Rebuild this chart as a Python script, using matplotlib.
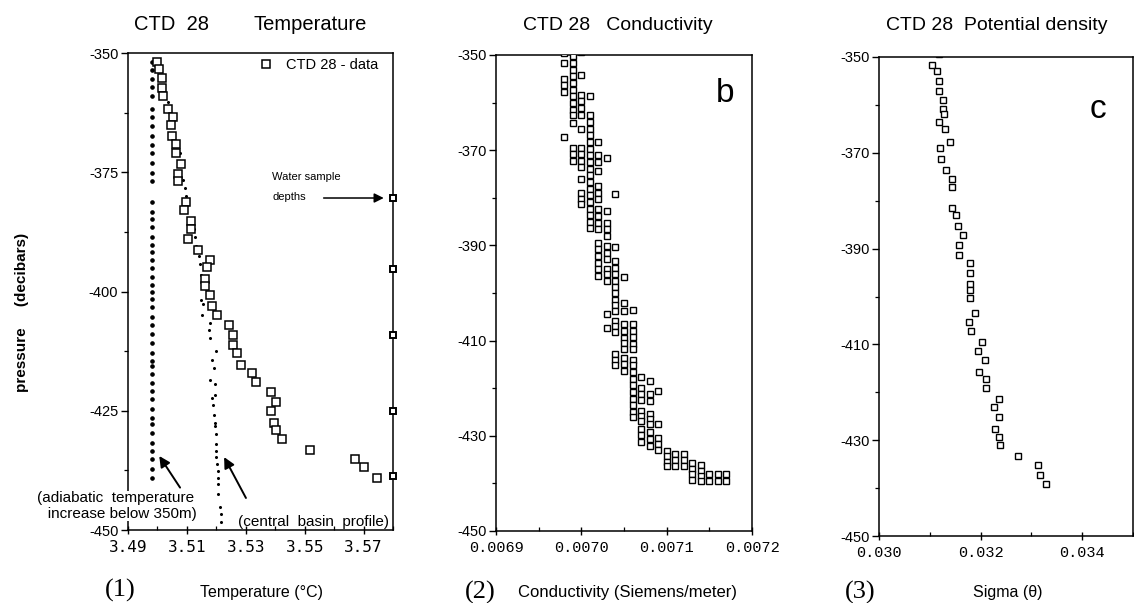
import matplotlib
matplotlib.use("Agg")
import matplotlib.pyplot as plt
from matplotlib.ticker import MultipleLocator, FixedLocator
import numpy as np

plt.rcParams['font.family'] = ['Liberation Sans', 'DejaVu Sans']

# ---------------- Panel 1: temperature ----------------
ctd_temp_depth = [-351.9, -353.3, -355.3, -357.4, -359.1, -361.7, -363.4, -365.1, -367.4, -369.0,
                  -371.0, -373.3, -375.4, -376.9, -381.3, -383.0, -385.3, -386.9, -388.9, -391.2,
                  -393.3, -394.9, -397.3, -398.8, -400.8, -403.0, -404.9, -407.0, -409.2, -411.3,
                  -412.9, -415.5, -417.1, -419.0, -421.1, -423.1, -425.1, -427.6, -429.0, -431.0,
                  -433.2, -435.1, -436.7, -439.0]
ctd_temp_value = [3.4999, 3.5004, 3.5016, 3.5016, 3.5019, 3.5036, 3.5052, 3.5046, 3.5051, 3.5063,
                  3.5062, 3.5080, 3.5070, 3.5070, 3.5097, 3.5090, 3.5114, 3.5114, 3.5104, 3.5137,
                  3.5180, 3.5170, 3.5163, 3.5163, 3.5180, 3.5186, 3.5202, 3.5244, 3.5257, 3.5257,
                  3.5271, 3.5283, 3.5321, 3.5336, 3.5385, 3.5401, 3.5385, 3.5396, 3.5404, 3.5423,
                  3.5518, 3.5672, 3.5700, 3.5744]

adiabatic_depth = [-351.8, -353.5, -355.4, -357.2, -359.1, -361.7, -363.4, -365.2, -367.3, -369.2,
                   -370.9, -373.0, -375.1, -376.9, -381.3, -383.4, -384.8, -386.5, -388.6, -390.3,
                   -391.7, -393.5, -395.1, -396.9, -398.7, -400.1, -401.5, -403.2, -405.3, -407.0,
                   -409.0, -410.8, -412.9, -414.6, -415.7, -417.4, -419.2, -420.9, -422.6, -424.7,
                   -426.5, -427.8, -429.6, -431.7, -433.4, -435.2, -437.2, -439.0]
adiabatic_temp = [3.4980, 3.4980, 3.4980, 3.4980, 3.4980, 3.4980, 3.4980, 3.4980, 3.4980, 3.4980,
                  3.4980, 3.4980, 3.4980, 3.4980, 3.4981, 3.4981, 3.4981, 3.4981, 3.4981, 3.4981,
                  3.4981, 3.4981, 3.4981, 3.4981, 3.4982, 3.4982, 3.4982, 3.4982, 3.4982, 3.4982,
                  3.4982, 3.4982, 3.4982, 3.4982, 3.4982, 3.4983, 3.4983, 3.4983, 3.4983, 3.4983,
                  3.4983, 3.4983, 3.4983, 3.4983, 3.4983, 3.4983, 3.4983, 3.4983]

central_depth = [-360.3, -370.9, -376.6, -378.3, -379.9, -386.9, -388.6, -390.4, -392.6, -394.3,
                 -396.6, -401.8, -402.6, -404.9, -406.7, -408.1, -409.8, -412.5, -414.3, -416.0,
                 -418.5, -419.4, -421.6, -422.3, -423.7, -425.8, -427.5, -428.1, -429.9, -432.0,
                 -433.4, -434.8, -436.2, -437.6, -439.0, -440.4, -442.4, -445.2, -446.6, -448.3]
central_temp = [3.5037, 3.5078, 3.5088, 3.5094, 3.5098, 3.5123, 3.5126, 3.5132, 3.5142, 3.5146,
                3.5149, 3.5149, 3.5154, 3.5151, 3.5177, 3.5174, 3.5179, 3.5199, 3.5186, 3.5191,
                3.5180, 3.5197, 3.5196, 3.5186, 3.5188, 3.5191, 3.5197, 3.5197, 3.5199, 3.5199,
                3.5199, 3.5199, 3.5201, 3.5205, 3.5205, 3.5205, 3.5205, 3.5213, 3.5216, 3.5216]

sample_depths = [-380.5, -395.2, -409.2, -425.1, -438.6]
sample_temp = [3.58, 3.58, 3.58, 3.58, 3.58]

temp_ticks = [3.49, 3.51, 3.53, 3.55, 3.57]
temp_depth_ticks = [-350, -375, -400, -425, -450]

# ---------------- Panel 2: conductivity ----------------
cond_levels = [0.00698, 0.00699, 0.00700, 0.00701, 0.00702, 0.00703, 0.00704, 0.00705, 0.00706,
               0.00707, 0.00708, 0.00709, 0.00710, 0.00711, 0.00712, 0.00713, 0.00714, 0.00715,
               0.00716, 0.00717]
cond_depths = [
    [-349.6, -351.6, -355.0, -356.4, -357.7, -367.3],
    [-350.3, -351.7, -353.1, -354.5, -355.9, -357.3, -358.7, -360.1, -361.5, -362.6, -364.2,
     -369.5, -370.9, -372.3],
    [-349.4, -354.2, -358.3, -359.7, -361.1, -362.5, -365.6, -369.5, -370.9, -372.3, -373.6,
     -376.0, -379.0, -380.3, -381.4],
    [-358.6, -362.7, -364.1, -365.5, -366.9, -368.3, -369.7, -371.1, -372.5, -373.9, -375.3,
     -376.7, -378.1, -379.5, -380.9, -382.3, -383.7, -385.1, -386.3],
    [-368.3, -371.0, -372.4, -374.4, -377.5, -378.9, -380.3, -382.4, -383.8, -385.2, -386.6,
     -389.4, -390.8, -392.2, -393.6, -395.0, -396.4],
    [-371.6, -382.8, -385.2, -386.6, -388.0, -390.1, -391.5, -392.9, -395.0, -396.1, -397.4,
     -404.5, -407.3],
    [-379.3, -390.3, -393.3, -394.7, -396.1, -397.5, -398.8, -400.1, -401.4, -402.6, -403.8,
     -405.9, -407.0, -408.1, -412.9, -414.0, -415.1],
    [-396.6, -402.0, -403.8, -406.6, -408.0, -409.4, -410.6, -411.7, -413.6, -415.0, -416.4],
    [-403.5, -406.5, -407.9, -409.3, -410.7, -411.8, -414.0, -415.2, -416.6, -418.0, -419.4,
     -420.8, -422.2, -423.6, -425.0, -426.1],
    [-417.7, -419.9, -421.3, -422.5, -424.7, -425.9, -426.9, -428.5, -429.9, -431.3],
    [-418.5, -421.3, -422.7, -425.4, -426.5, -427.6, -429.2, -430.7, -432.1],
    [-420.6, -427.5, -430.4, -431.7, -432.9],
    [-433.2, -434.3, -435.4, -436.4],
    [-433.9, -435.1, -436.3],
    [-433.9, -435.1, -436.3],
    [-435.7, -436.9, -438.1, -439.3],
    [-436.1, -437.3, -438.5, -439.5],
    [-438.1, -439.6],
    [-438.1, -439.6],
    [-438.1, -439.6],
]
cond_ticks = [0.0069, 0.0070, 0.0071, 0.0072]
cond_tick_labels = ['0.0069', '0.0070', '0.0071', '0.0072']

# ---------------- Panel 3: potential density ----------------
sigma_depth = [-349.3, -351.6, -353.0, -355.1, -357.0, -359.0, -360.8, -361.8, -363.6, -365.0,
               -367.7, -369.1, -371.2, -373.5, -375.4, -377.1, -381.6, -383.0, -385.3, -387.2,
               -389.3, -391.4, -393.1, -395.1, -397.3, -398.7, -400.4, -403.4, -405.3, -407.1,
               -409.5, -411.4, -413.3, -415.8, -417.3, -419.2, -421.5, -423.1, -425.2, -427.6,
               -429.3, -431.1, -433.3, -435.2, -437.2, -439.2]
sigma_value = [0.03118, 0.03105, 0.03115, 0.03118, 0.03118, 0.03126, 0.03126, 0.03127, 0.03119,
               0.03129, 0.03139, 0.03121, 0.03123, 0.03131, 0.03144, 0.03144, 0.03143, 0.03151,
               0.03156, 0.03165, 0.03157, 0.03157, 0.03180, 0.03180, 0.03180, 0.03180, 0.03180,
               0.03189, 0.03178, 0.03182, 0.03203, 0.03195, 0.03208, 0.03197, 0.03211, 0.03211,
               0.03236, 0.03226, 0.03236, 0.03228, 0.03236, 0.03238, 0.03274, 0.03313, 0.03317,
               0.03328]
sigma_ticks = [0.030, 0.032, 0.034]
sigma_tick_labels = ['0.030', '0.032', '0.034']
depth_ticks_20 = [-350, -370, -390, -410, -430, -450]

# ---------------- Figure ----------------
W, H = 1134, 603
fig = plt.figure(figsize=(W / 100, H / 100), dpi=100)


def px_axes(l, t, r, b):
    return fig.add_axes([l / W, 1 - b / H, (r - l) / W, (b - t) / H])


def style_axes(ax):
    for s in ax.spines.values():
        s.set_linewidth(1.1)
    ax.tick_params(axis='y', which='major', direction='out', length=5, width=1.0, pad=2)
    ax.tick_params(axis='y', which='minor', direction='out', length=3, width=0.9)
    ax.tick_params(axis='x', which='major', direction='inout', length=6, width=1.0, pad=4)
    ax.tick_params(axis='x', which='minor', direction='in', length=3, width=0.9)


sq = dict(marker='s', linestyle='none', mfc='white', mec='black')
YTICK_FS = 10.5

# Panel 1
ax1 = px_axes(128, 53, 393, 530)
style_axes(ax1)
ax1.plot(adiabatic_temp, adiabatic_depth, marker='o', linestyle='none', ms=2.3,
         mfc='black', mec='black', zorder=3)
ax1.plot(central_temp, central_depth, marker='o', linestyle='none', ms=1.2,
         mfc='black', mec='black', zorder=3)
ax1.plot(ctd_temp_value, ctd_temp_depth, ms=5.2, mew=1.1, label='CTD 28 - data', zorder=4, **sq)
ax1.plot(sample_temp, sample_depths, marker='s', linestyle='none', ms=4.2, mew=1.4,
         mfc='white', mec='black', clip_on=False, zorder=5)
ax1.set_xlim(3.49, 3.58)
ax1.set_ylim(-450, -350)
ax1.xaxis.set_major_locator(FixedLocator(temp_ticks))
ax1.xaxis.set_minor_locator(MultipleLocator(0.01))
ax1.yaxis.set_major_locator(FixedLocator(temp_depth_ticks))
ax1.yaxis.set_minor_locator(MultipleLocator(12.5))
ax1.set_xticklabels(['%.2f' % v for v in temp_ticks], family='DejaVu Sans Mono', fontsize=11.5)
ax1.set_yticklabels([str(v) for v in temp_depth_ticks], fontsize=YTICK_FS)
leg = ax1.legend(loc='upper left', bbox_to_anchor=(0.455, 1.01), frameon=False,
                 handlelength=1.0, handletextpad=0.9, fontsize=10.5, borderaxespad=0.3)
ax1.text(3.5390, -376.0, 'Water sample', fontsize=8, ha='left', va='center')
ax1.text(3.5390, -380.2, 'depths', fontsize=8, ha='left', va='center')
ax1.annotate('', xy=(3.5778, -380.4), xytext=(3.5555, -380.4),
             arrowprops=dict(arrowstyle='-|>', color='black', lw=1.1, mutation_scale=14))
ax1.annotate('', xy=(3.5001, -434.0), xytext=(3.5082, -441.6),
             arrowprops=dict(arrowstyle='-|>', color='black', lw=1.4, mutation_scale=16))
ax1.annotate('', xy=(3.5222, -434.2), xytext=(3.5305, -443.8),
             arrowprops=dict(arrowstyle='-|>', color='black', lw=1.4, mutation_scale=16))
fig.text(116 / W, 1 - 506 / H, '(adiabatic  temperature\n   increase below 350m)',
         fontsize=11, ha='center', va='center', linespacing=1.1,
         bbox=dict(facecolor='white', edgecolor='none', pad=0.3), zorder=10)
fig.text(313 / W, 1 - 522 / H, '(central  basin  profile)', fontsize=11,
         ha='center', va='center')
fig.text(172 / W, 1 - 25 / H, 'CTD  28', fontsize=14.5, ha='center', va='center')
fig.text(310 / W, 1 - 25 / H, 'Temperature', fontsize=14.5, ha='center', va='center')
fig.text(22 / W, 1 - 312 / H, 'pressure     (decibars)', fontsize=11, fontweight='bold',
         rotation=90, ha='center', va='center')
fig.text(120 / W, 1 - 590 / H, '(1)', family='Liberation Serif', fontsize=19,
         ha='center', va='center')
fig.text(262 / W, 1 - 592 / H, 'Temperature (°C)', fontsize=11.5, ha='center', va='center')

# Panel 2
ax2 = px_axes(496, 55, 752, 531)
style_axes(ax2)
cond_x = [lvl for lvl, ds in zip(cond_levels, cond_depths) for _ in ds]
cond_y = [d for ds in cond_depths for d in ds]
ax2.plot(cond_x, cond_y, ms=4.6, mew=1.0, zorder=4, **sq)
ax2.set_xlim(0.0069, 0.0072)
ax2.set_ylim(-450, -350)
ax2.xaxis.set_major_locator(FixedLocator(cond_ticks))
ax2.xaxis.set_minor_locator(MultipleLocator(0.00005))
ax2.yaxis.set_major_locator(FixedLocator(depth_ticks_20))
ax2.yaxis.set_minor_locator(MultipleLocator(10))
ax2.set_xticklabels(cond_tick_labels, family='Liberation Mono', fontsize=11)
ax2.set_yticklabels([str(v) for v in depth_ticks_20], fontsize=YTICK_FS)
ax2.text(0.93, 0.92, 'b', transform=ax2.transAxes, fontsize=24, ha='right', va='center')
fig.text(618 / W, 1 - 25 / H, 'CTD 28   Conductivity', fontsize=14, ha='center', va='center')
fig.text(480 / W, 1 - 592 / H, '(2)', family='Liberation Serif', fontsize=19,
         ha='center', va='center')
fig.text(627 / W, 1 - 593 / H, 'Conductivity (Siemens/meter)', fontsize=12,
         ha='center', va='center')

# Panel 3
ax3 = px_axes(879, 57, 1133, 536)
style_axes(ax3)
ax3.plot(sigma_value, sigma_depth, ms=4.6, mew=1.0, zorder=4, **sq)
ax3.set_xlim(0.030, 0.035)
ax3.set_ylim(-450, -350)
ax3.xaxis.set_major_locator(FixedLocator(sigma_ticks))
ax3.xaxis.set_minor_locator(MultipleLocator(0.001))
ax3.yaxis.set_major_locator(FixedLocator(depth_ticks_20))
ax3.yaxis.set_minor_locator(MultipleLocator(10))
ax3.set_xticklabels(sigma_tick_labels, family='Liberation Mono', fontsize=11)
ax3.set_yticklabels([str(v) for v in depth_ticks_20], fontsize=YTICK_FS)
ax3.text(0.86, 0.89, 'c', transform=ax3.transAxes, fontsize=24, ha='center', va='center')
fig.text(997 / W, 1 - 25 / H, 'CTD 28  Potential density', fontsize=14, ha='center',
         va='center')
fig.text(860 / W, 1 - 592 / H, '(3)', family='Liberation Serif', fontsize=19,
         ha='center', va='center')
fig.text(1008 / W, 1 - 593 / H, 'Sigma (θ)', fontsize=11.5, ha='center', va='center')

fig.savefig('out.png', dpi=100)
